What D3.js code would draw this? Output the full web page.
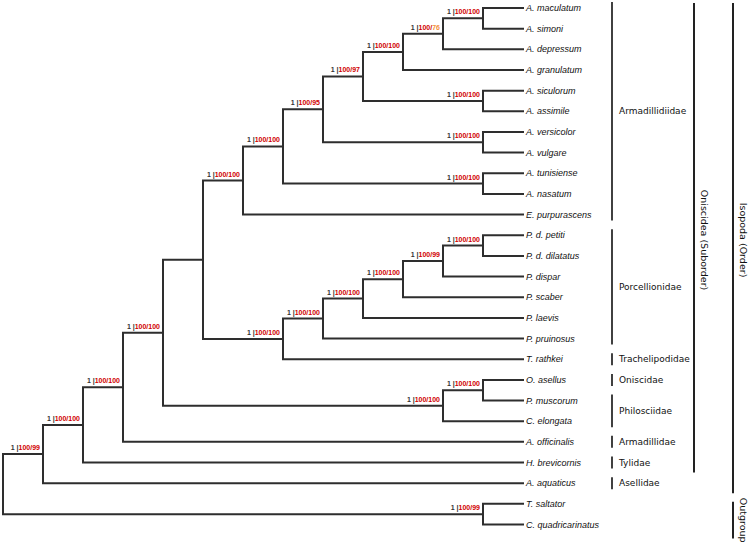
<!DOCTYPE html>
<html>
<head>
<meta charset="utf-8">
<script src="https://cdn.jsdelivr.net/npm/d3@7"></script>
<style>
  html, body { margin: 0; padding: 0; background: #fff; }
  svg { display: block; }
</style>
</head>
<body>
<svg id="chart" width="750" height="545"></svg>
<script>
// ---- Data ----
const taxa = [
  "A. maculatum", "A. simoni", "A. depressum", "A. granulatum", "A. siculorum",
  "A. assimile", "A. versicolor", "A. vulgare", "A. tunisiense", "A. nasatum",
  "E. purpurascens", "P. d. petiti", "P. d. dilatatus", "P. dispar", "P. scaber",
  "P. laevis", "P. pruinosus", "T. rathkei", "O. asellus", "P. muscorum",
  "C. elongata", "A. officinalis", "H. brevicornis", "A. aquaticus",
  "T. saltator", "C. quadricarinatus"
];

// clade id, left child, right child (numbers = taxa index, strings = clade id)
const clades = [
  ["c01", 0, 1], ["c02", "c01", 2], ["c03", "c02", 3], ["c04", 4, 5],
  ["c05", "c03", "c04"], ["c06", 6, 7], ["c07", "c05", "c06"], ["c08", 8, 9],
  ["c09", "c07", "c08"], ["c10", "c09", 10], ["c11", 11, 12], ["c12", "c11", 13],
  ["c13", "c12", 14], ["c14", "c13", 15], ["c15", "c14", 16], ["c16", "c15", 17],
  ["c17", "c10", "c16"], ["c18", 18, 19], ["c19", "c18", 20], ["c20", "c17", "c19"],
  ["c21", "c20", 21], ["c22", "c21", 22], ["c23", "c22", 23], ["c24", 24, 25],
  ["root", "c23", "c24"]
];

// support values per clade (same order as clades); null = not shown
const posterior = [1, 1, 1, 1, 1, 1, 1, 1, 1, 1, 1, 1, 1, 1, 1, 1, null, 1, 1, 1, 1, 1, 1, 1, null];
const ufboot    = [100, 100, 100, 100, 100, 100, 100, 100, 100, 100, 100, 100, 100, 100, 100, 100, null, 100, 100, 100, 100, 100, 100, 100, null];
const bootstrap = [100, 76, 100, 100, 97, 100, 95, 100, 100, 100, 100, 99, 100, 100, 100, 100, null, 100, 100, 100, 100, 100, 99, 99, null];

const families = ["Armadillidiidae", "Porcellionidae", "Trachelipodidae", "Oniscidae", "Philosciidae", "Armadillidae", "Tylidae", "Asellidae"];
const familyFirst = [0, 11, 17, 18, 19, 21, 22, 23];
const familyLast  = [10, 16, 17, 18, 20, 21, 22, 23];

const groups = ["Oniscidea (Suborder)", "Isopoda (Order)", "Outgroup"];
const groupFirst = [0, 0, 24];
const groupLast  = [22, 23, 25];

// ---- Build hierarchy ----
const cladeMap = new Map();
clades.forEach((c, i) => cladeMap.set(c[0], { id: c[0], idx: i, kids: [c[1], c[2]] }));
function build(ref) {
  if (typeof ref === "number") return { name: taxa[ref], leafIndex: ref };
  const c = cladeMap.get(ref);
  return { id: c.id, idx: c.idx, children: c.kids.map(build) };
}
const root = d3.hierarchy(build("root"));

const svg = d3.select("#chart");
const yScale = d3.scaleLinear().domain([0, taxa.length - 1]).range([8, 524.5]);
const xScale = d3.scaleLinear().domain([root.height, 0]).range([3, 523]);

root.eachAfter(n => {
  n.px = xScale(n.height);
  if (!n.children) n.py = yScale(n.data.leafIndex);
  else n.py = (n.children[0].py + n.children[n.children.length - 1].py) / 2;
});

// ---- Tree branches ----
const g = svg.append("g");
const lines = [];
root.each(n => {
  if (!n.children) return;
  const c0 = n.children[0], c1 = n.children[n.children.length - 1];
  lines.push(`M${n.px},${c0.py}V${c1.py}`);
  n.children.forEach(c => lines.push(`M${n.px},${c.py}H${c.px}`));
});
g.append("path")
  .attr("d", lines.join(""))
  .attr("fill", "none")
  .attr("stroke", "#2e2e2e")
  .attr("stroke-width", 2)
  .attr("stroke-linecap", "square");

// ---- Leaf labels ----
g.selectAll("text.leaf")
  .data(root.leaves())
  .join("text")
  .attr("class", "leaf")
  .attr("x", d => d.px + 3)
  .attr("y", d => d.py)
  .attr("dy", "0.35em")
  .attr("font-family", "'Liberation Sans', Arial, sans-serif")
  .attr("font-style", "italic")
  .attr("font-size", 9)
  .attr("fill", "#111")
  .text(d => d.data.name);

// ---- Support labels ----
const internal = root.descendants().filter(n => n.children && posterior[n.data.idx] != null);
const sup = g.selectAll("text.sup")
  .data(internal)
  .join("text")
  .attr("class", "sup")
  .attr("x", d => d.px - 3)
  .attr("y", d => d.py - 4)
  .attr("text-anchor", "end")
  .attr("font-family", "'Liberation Sans', Arial, sans-serif")
  .attr("font-weight", "bold")
  .attr("font-size", 7);
sup.append("tspan").attr("fill", "#333").text(d => posterior[d.data.idx] + " |");
sup.append("tspan").attr("fill", "#d00000").text(d => ufboot[d.data.idx] + "/");
sup.append("tspan")
  .attr("fill", d => bootstrap[d.data.idx] < 90 ? "#f39040" : "#d00000")
  .text(d => bootstrap[d.data.idx]);

// ---- Family brackets ----
const fam = svg.append("g");
families.forEach((f, i) => {
  const y0 = yScale(familyFirst[i]) - 6, y1 = yScale(familyLast[i]) + 6;
  fam.append("line")
    .attr("x1", 612).attr("x2", 612).attr("y1", y0).attr("y2", y1)
    .attr("stroke", "#111").attr("stroke-width", 1.6);
  fam.append("text")
    .attr("x", 619).attr("y", (y0 + y1) / 2).attr("dy", "0.35em")
    .attr("font-family", "'DejaVu Sans', Verdana, sans-serif")
    .attr("font-size", 9)
    .attr("fill", "#111")
    .text(f);
});

// ---- Higher groups ----
const grpX = [694, 733, 733];
groups.forEach((t, i) => {
  const y0 = yScale(groupFirst[i]) - 5, y1 = yScale(groupLast[i]) + (i === 2 ? 14 : 10);
  const yy0 = i === 2 ? yScale(groupFirst[i]) - 2 : y0;
  fam.append("line")
    .attr("x1", grpX[i]).attr("x2", grpX[i]).attr("y1", yy0).attr("y2", y1)
    .attr("stroke", "#222").attr("stroke-width", 2);
  const cx = grpX[i] + 10;
  const cy = i === 2 ? (yy0 + y1) / 2 : 240;
  fam.append("text")
    .attr("transform", `translate(${cx},${cy}) rotate(90)`)
    .attr("text-anchor", "middle")
    .attr("dominant-baseline", "central")
    .attr("font-family", "'DejaVu Sans', Verdana, sans-serif")
    .attr("font-size", 9.5)
    .attr("fill", "#111")
    .text(t);
});
</script>
</body>
</html>
